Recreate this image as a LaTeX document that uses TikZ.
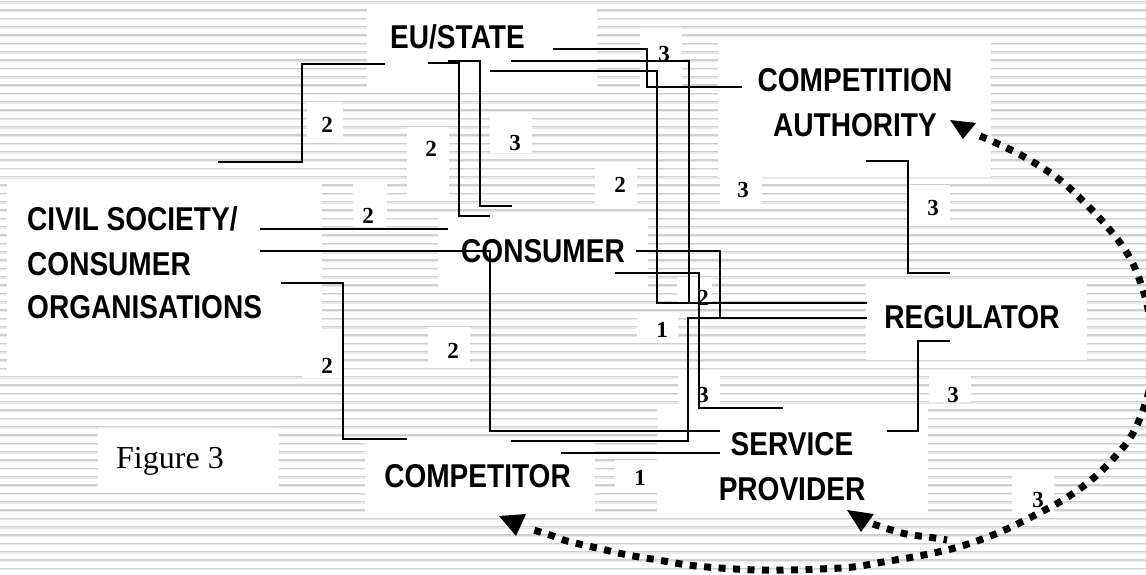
\documentclass[tikz,border=0pt]{standalone}
\usepackage{fontspec}
\newfontfamily\labfont[FakeStretch=0.85]{Liberation Sans}
\newfontfamily\serfont{Liberation Serif}
\definecolor{stripeA}{RGB}{208,208,208}
\definecolor{stripeB}{RGB}{232,232,232}
\begin{document}
\begin{tikzpicture}[x=1pt,y=-1pt,
  lab/.style={font=\labfont\bfseries\fontsize{33}{33}\selectfont, inner sep=0pt, anchor=base},
  num/.style={font=\serfont\bfseries\fontsize{23}{23}\selectfont, inner sep=0pt, anchor=base},
  link/.style={line width=1.5pt, line join=miter},
  dotc/.style={line width=7pt, dash pattern=on 7pt off 7.5pt},
  wbox/.style={fill=white},
  tipfill/.style={fill=black}]
\useasboundingbox (0,0) rectangle (1146,575);
\fill[white] (0,0) rectangle (1146,575);
% striped background
\foreach \i in {0,...,69}{
  \draw[stripeA, line width=1.3pt] (0,{1.67+8.3333*\i}) -- (1146,{1.67+8.3333*\i});
  \draw[stripeB, line width=1.2pt] (0,{2.97+8.3333*\i}) -- (1146,{2.97+8.3333*\i});
}
% white text boxes
\fill[wbox] (367,8) rectangle (597,87);
\fill[wbox] (718,43) rectangle (991,177);
\fill[wbox] (7,183) rectangle (322,373);
\fill[wbox] (438,215) rectangle (648,290);
\fill[wbox] (866,283) rectangle (1087,360);
\fill[wbox] (657,407) rectangle (928,512);
\fill[wbox] (365,441) rectangle (595,512);
\fill[wbox] (98,428) rectangle (279,487);
% number boxes
\fill[wbox] (307,102) rectangle (343,138);
\fill[wbox] (407,127) rectangle (449,200);
\fill[wbox] (490,118) rectangle (532,153);
\fill[wbox] (595,162) rectangle (637,205);
\fill[wbox] (720,162) rectangle (762,205);
\fill[wbox] (640,28) rectangle (682,87);
\fill[wbox] (908,185) rectangle (950,220);
\fill[wbox] (353,180) rectangle (387,227);
\fill[wbox] (302,330) rectangle (343,378);
\fill[wbox] (428,327) rectangle (470,362);
\fill[wbox] (637,315) rectangle (678,340);
\fill[wbox] (677,277) rectangle (712,307);
\fill[wbox] (678,373) rectangle (720,407);
\fill[wbox] (929,370) rectangle (971,402);
\fill[wbox] (615,460) rectangle (657,488);
\fill[wbox] (1012,475) rectangle (1054,513);
% labels
\node[lab] (eu) at (457.5,49) {EU/STATE};
\node[lab] (ca1) at (855,92) {COMPETITION};
\node[lab] (ca2) at (855,137) {AUTHORITY};
\node[lab, anchor=base west] (cs1) at (27,230) {CIVIL SOCIETY/};
\node[lab, anchor=base west] (cs2) at (27,275) {CONSUMER};
\node[lab, anchor=base west] (cs3) at (27,318) {ORGANISATIONS};
\node[lab] (con) at (543,262) {CONSUMER};
\node[lab] (reg) at (972,328) {REGULATOR};
\node[lab] (sp1) at (792,455) {SERVICE};
\node[lab] (sp2) at (792,500) {PROVIDER};
\node[lab] (comp) at (477.5,487) {COMPETITOR};
\node[font=\serfont\fontsize{32}{32}\selectfont, inner sep=0pt, anchor=base west] (fig) at (116,468) {Figure 3};
% numbers
\node[num] (n1) at (327,133) {2};
\node[num] (n2) at (431,157) {2};
\node[num] (n3) at (515,150) {3};
\node[num] (n4) at (620,193) {2};
\node[num] (n5) at (743,197) {3};
\node[num] (n6) at (664,62) {3};
\node[num] (n7) at (933,215) {3};
\node[num] (n8) at (368,223) {2};
\node[num] (n9) at (327,373) {2};
\node[num] (n10) at (453,358) {2};
\node[num] (n11) at (662,337) {1};
\node[num] (n12) at (703,305) {2};
\node[num] (n13) at (703,402) {3};
\node[num] (n14) at (953,402) {3};
\node[num] (n15) at (640,485) {1};
\node[num] (n16) at (1038,507) {3};
% connector end points
\coordinate (e1a) at (218,162);  \coordinate (e1b) at (385,64);
\coordinate (e2a) at (428,63);   \coordinate (e2b) at (490,216);
\coordinate (e3a) at (448,61);   \coordinate (e3b) at (512,206);
\coordinate (e4a) at (553,49);   \coordinate (e4b) at (742,87);
\coordinate (e5a) at (511,61);   \coordinate (e5b) at (825,303);
\coordinate (e6a) at (490,71);   \coordinate (e6b) at (867,303);
\coordinate (e7a) at (636,251);  \coordinate (e7b) at (867,318);
\coordinate (e8a) at (615,273);  \coordinate (e8b) at (783,408);
\coordinate (e9a) at (803,318);  \coordinate (e9b) at (511,441);
\coordinate (e10a) at (260,229); \coordinate (e10b) at (448,229);
\coordinate (e11a) at (260,251); \coordinate (e11b) at (720,431);
\coordinate (e12a) at (281,283); \coordinate (e12b) at (407,439);
\coordinate (e13a) at (561,453); \coordinate (e13b) at (720,453);
\coordinate (e14a) at (950,341); \coordinate (e14b) at (887,431);
\coordinate (e15a) at (866,161); \coordinate (e15b) at (950,273);
% connectors
\draw[link] (e1a) -- ++(84,0) |- (e1b);
\draw[link] (e2a) -- ++(31,0) |- (e2b);
\draw[link] (e3a) -- ++(32,0) |- (e3b);
\draw[link] (e4a) -- ++(94,0) |- (e4b);
\draw[link] (e5a) -- ++(178,0) |- (e5b);
\draw[link] (e6a) -- ++(167,0) |- (e6b);
\draw[link] (e7a) -- ++(84,0) |- (e7b);
\draw[link] (e8a) -- ++(84,0) |- (e8b);
\draw[link] (e9a) -- ++(-115,0) |- (e9b);
\draw[link] (e10a) -- (e10b);
\draw[link] (e11a) -- ++(230,0) |- (e11b);
\draw[link] (e12a) -- ++(62,0) |- (e12b);
\draw[link] (e13a) -- (e13b);
\draw[link] (e14a) -- ++(-32,0) |- (e14b);
\draw[link] (e15a) -- ++(42,0) |- (e15b);
% dotted curves
\coordinate (tA) at (963,139);
\coordinate (tC) at (499,516);
\coordinate (tS) at (847,510);
\draw[dotc] plot[smooth, tension=0.6] coordinates {(980,136) (1007,148) (1033,162) (1060,180) (1085,203) (1110,230) (1130,258) (1143,290) (1151,325) (1153,360) (1148,395) (1133,433) (1113,459) (1090,481) (1063,500) (1035,515) (1007,529) (977,541) (947,550) (913,557) (883,562) (853,567) (820,569) (790,570) (757,570) (720,568) (688,565) (658,560) (628,555) (597,548) (567,541) (550,535) (530,529)};
\draw[dotc] plot[smooth, tension=0.6] coordinates {(873,524) (898,532) (912,535) (928,537) (947,540)};
\fill[tipfill] (950,120) -- (976,123) -- (tA) -- cycle;
\fill[tipfill] (tC) -- (526,514) -- (516,536) -- cycle;
\fill[tipfill] (tS) -- (874,514) -- (861,532) -- cycle;
\end{tikzpicture}
\end{document}
